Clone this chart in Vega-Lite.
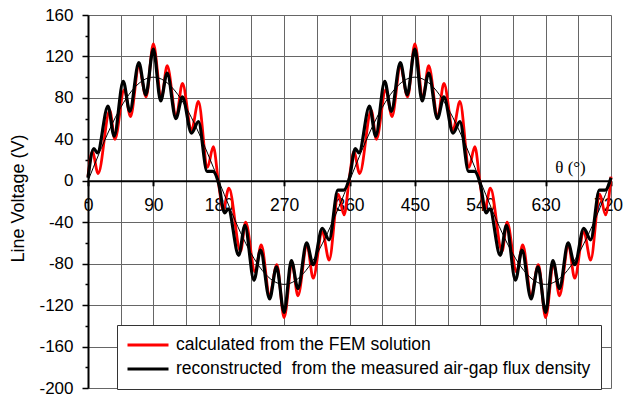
{
  "$schema": "https://vega.github.io/schema/vega-lite/v6.json",
  "width": 523,
  "height": 373,
  "autosize": {"type": "none"},
  "padding": {"left": 88, "top": 15, "right": 13, "bottom": 13},
  "background": "white",
  "config": {
    "view": {"stroke": null},
    "font": "Liberation Sans",
    "legend": {
      "orient": "none",
      "legendX": 29,
      "legendY": 310,
      "fillColor": "white",
      "strokeColor": "#333333",
      "strokeWidth": 1,
      "padding": 10,
      "symbolType": "stroke",
      "symbolSize": 1681,
      "symbolStrokeWidth": 3,
      "clipHeight": 20,
      "rowPadding": 4,
      "symbolOffset": -1,
      "labelOffset": 6,
      "labelFont": "Liberation Sans",
      "labelFontSize": 17.5,
      "labelColor": "#000000",
      "labelLimit": 700,
      "title": null
    }
  },
  "data": {
    "values": [
      {"x":0,"y":3,"s":"meas"},{"x":8,"y":31,"s":"meas"},{"x":13,"y":27,"s":"meas"},{"x":27.5,"y":72,"s":"meas"},{"x":36,"y":43,"s":"meas"},{"x":48.5,"y":96,"s":"meas"},{"x":57.5,"y":67,"s":"meas"},{"x":70,"y":114,"s":"meas"},{"x":79.5,"y":83,"s":"meas"},{"x":90,"y":127,"s":"meas"},{"x":100,"y":77,"s":"meas"},{"x":109,"y":104,"s":"meas"},{"x":121,"y":60,"s":"meas"},{"x":130,"y":81,"s":"meas"},{"x":142.5,"y":46,"s":"meas"},{"x":152,"y":57,"s":"meas"},{"x":164,"y":9,"s":"meas"},{"x":172,"y":9,"s":"meas"},
      {"x":180,"y":-3,"s":"meas"},{"x":188,"y":-31,"s":"meas"},{"x":193,"y":-27,"s":"meas"},{"x":207.5,"y":-72,"s":"meas"},{"x":216,"y":-43,"s":"meas"},{"x":228.5,"y":-96,"s":"meas"},{"x":237.5,"y":-67,"s":"meas"},{"x":250,"y":-114,"s":"meas"},{"x":259.5,"y":-83,"s":"meas"},{"x":270,"y":-127,"s":"meas"},{"x":280,"y":-77,"s":"meas"},{"x":289,"y":-104,"s":"meas"},{"x":301,"y":-60,"s":"meas"},{"x":310,"y":-81,"s":"meas"},{"x":322.5,"y":-46,"s":"meas"},{"x":332,"y":-57,"s":"meas"},{"x":344,"y":-9,"s":"meas"},{"x":352,"y":-9,"s":"meas"},
      {"x":360,"y":3,"s":"meas"},{"x":368,"y":31,"s":"meas"},{"x":373,"y":27,"s":"meas"},{"x":387.5,"y":72,"s":"meas"},{"x":396,"y":43,"s":"meas"},{"x":408.5,"y":96,"s":"meas"},{"x":417.5,"y":67,"s":"meas"},{"x":430,"y":114,"s":"meas"},{"x":439.5,"y":83,"s":"meas"},{"x":450,"y":127,"s":"meas"},{"x":460,"y":77,"s":"meas"},{"x":469,"y":104,"s":"meas"},{"x":481,"y":60,"s":"meas"},{"x":490,"y":81,"s":"meas"},{"x":502.5,"y":46,"s":"meas"},{"x":512,"y":57,"s":"meas"},{"x":524,"y":9,"s":"meas"},{"x":532,"y":9,"s":"meas"},
      {"x":540,"y":-3,"s":"meas"},{"x":548,"y":-31,"s":"meas"},{"x":553,"y":-27,"s":"meas"},{"x":567.5,"y":-72,"s":"meas"},{"x":576,"y":-43,"s":"meas"},{"x":588.5,"y":-96,"s":"meas"},{"x":597.5,"y":-67,"s":"meas"},{"x":610,"y":-114,"s":"meas"},{"x":619.5,"y":-83,"s":"meas"},{"x":630,"y":-127,"s":"meas"},{"x":640,"y":-77,"s":"meas"},{"x":649,"y":-104,"s":"meas"},{"x":661,"y":-60,"s":"meas"},{"x":670,"y":-81,"s":"meas"},{"x":682.5,"y":-46,"s":"meas"},{"x":692,"y":-57,"s":"meas"},{"x":704,"y":-9,"s":"meas"},{"x":712,"y":-9,"s":"meas"},{"x":720,"y":3,"s":"meas"},

      {"x":0,"y":4,"s":"FEM"},{"x":6,"y":28,"s":"FEM"},{"x":14,"y":7,"s":"FEM"},{"x":30,"y":68,"s":"FEM"},{"x":37,"y":40,"s":"FEM"},{"x":50,"y":88,"s":"FEM"},{"x":58.5,"y":62,"s":"FEM"},{"x":70,"y":110,"s":"FEM"},{"x":80,"y":81,"s":"FEM"},{"x":90,"y":132,"s":"FEM"},{"x":101,"y":80,"s":"FEM"},{"x":109,"y":111,"s":"FEM"},{"x":121.5,"y":62,"s":"FEM"},{"x":130,"y":94,"s":"FEM"},{"x":142.5,"y":49,"s":"FEM"},{"x":152,"y":76.5,"s":"FEM"},{"x":164.5,"y":13,"s":"FEM"},{"x":172.5,"y":33,"s":"FEM"},
      {"x":180,"y":-4,"s":"FEM"},{"x":186,"y":-28,"s":"FEM"},{"x":194,"y":-7,"s":"FEM"},{"x":210,"y":-68,"s":"FEM"},{"x":217,"y":-40,"s":"FEM"},{"x":230,"y":-88,"s":"FEM"},{"x":238.5,"y":-62,"s":"FEM"},{"x":250,"y":-110,"s":"FEM"},{"x":260,"y":-81,"s":"FEM"},{"x":270,"y":-132,"s":"FEM"},{"x":281,"y":-80,"s":"FEM"},{"x":289,"y":-111,"s":"FEM"},{"x":301.5,"y":-62,"s":"FEM"},{"x":310,"y":-94,"s":"FEM"},{"x":322.5,"y":-49,"s":"FEM"},{"x":332,"y":-76.5,"s":"FEM"},{"x":344.5,"y":-13,"s":"FEM"},{"x":352.5,"y":-33,"s":"FEM"},
      {"x":360,"y":4,"s":"FEM"},{"x":366,"y":28,"s":"FEM"},{"x":374,"y":7,"s":"FEM"},{"x":390,"y":68,"s":"FEM"},{"x":397,"y":40,"s":"FEM"},{"x":410,"y":88,"s":"FEM"},{"x":418.5,"y":62,"s":"FEM"},{"x":430,"y":110,"s":"FEM"},{"x":440,"y":81,"s":"FEM"},{"x":450,"y":132,"s":"FEM"},{"x":461,"y":80,"s":"FEM"},{"x":469,"y":111,"s":"FEM"},{"x":481.5,"y":62,"s":"FEM"},{"x":490,"y":94,"s":"FEM"},{"x":502.5,"y":49,"s":"FEM"},{"x":512,"y":76.5,"s":"FEM"},{"x":524.5,"y":13,"s":"FEM"},{"x":532.5,"y":33,"s":"FEM"},
      {"x":540,"y":-4,"s":"FEM"},{"x":546,"y":-28,"s":"FEM"},{"x":554,"y":-7,"s":"FEM"},{"x":570,"y":-68,"s":"FEM"},{"x":577,"y":-40,"s":"FEM"},{"x":590,"y":-88,"s":"FEM"},{"x":598.5,"y":-62,"s":"FEM"},{"x":610,"y":-110,"s":"FEM"},{"x":620,"y":-81,"s":"FEM"},{"x":630,"y":-132,"s":"FEM"},{"x":641,"y":-80,"s":"FEM"},{"x":649,"y":-111,"s":"FEM"},{"x":661.5,"y":-62,"s":"FEM"},{"x":670,"y":-94,"s":"FEM"},{"x":682.5,"y":-49,"s":"FEM"},{"x":692,"y":-76.5,"s":"FEM"},{"x":704.5,"y":-13,"s":"FEM"},{"x":712.5,"y":-33,"s":"FEM"},{"x":720,"y":4,"s":"FEM"},

      {"x":0,"y":0,"s":"fund"},{"x":15,"y":25.9,"s":"fund"},{"x":30,"y":50,"s":"fund"},{"x":45,"y":70.7,"s":"fund"},{"x":60,"y":86.6,"s":"fund"},{"x":75,"y":96.6,"s":"fund"},{"x":90,"y":100,"s":"fund"},{"x":105,"y":96.6,"s":"fund"},{"x":120,"y":86.6,"s":"fund"},{"x":135,"y":70.7,"s":"fund"},{"x":150,"y":50,"s":"fund"},{"x":165,"y":25.9,"s":"fund"},
      {"x":180,"y":0,"s":"fund"},{"x":195,"y":-25.9,"s":"fund"},{"x":210,"y":-50,"s":"fund"},{"x":225,"y":-70.7,"s":"fund"},{"x":240,"y":-86.6,"s":"fund"},{"x":255,"y":-96.6,"s":"fund"},{"x":270,"y":-100,"s":"fund"},{"x":285,"y":-96.6,"s":"fund"},{"x":300,"y":-86.6,"s":"fund"},{"x":315,"y":-70.7,"s":"fund"},{"x":330,"y":-50,"s":"fund"},{"x":345,"y":-25.9,"s":"fund"},
      {"x":360,"y":0,"s":"fund"},{"x":375,"y":25.9,"s":"fund"},{"x":390,"y":50,"s":"fund"},{"x":405,"y":70.7,"s":"fund"},{"x":420,"y":86.6,"s":"fund"},{"x":435,"y":96.6,"s":"fund"},{"x":450,"y":100,"s":"fund"},{"x":465,"y":96.6,"s":"fund"},{"x":480,"y":86.6,"s":"fund"},{"x":495,"y":70.7,"s":"fund"},{"x":510,"y":50,"s":"fund"},{"x":525,"y":25.9,"s":"fund"},
      {"x":540,"y":0,"s":"fund"},{"x":555,"y":-25.9,"s":"fund"},{"x":570,"y":-50,"s":"fund"},{"x":585,"y":-70.7,"s":"fund"},{"x":600,"y":-86.6,"s":"fund"},{"x":615,"y":-96.6,"s":"fund"},{"x":630,"y":-100,"s":"fund"},{"x":645,"y":-96.6,"s":"fund"},{"x":660,"y":-86.6,"s":"fund"},{"x":675,"y":-70.7,"s":"fund"},{"x":690,"y":-50,"s":"fund"},{"x":705,"y":-25.9,"s":"fund"},{"x":720,"y":0,"s":"fund"}
    ]
  },
  "encoding": {
    "x": {
      "field": "x",
      "type": "quantitative",
      "scale": {"domain": [0, 720], "nice": false, "zero": false},
      "axis": {
        "orient": "bottom",
        "offset": -207.22,
        "values": [0,45,90,135,180,225,270,315,360,405,450,495,540,585,630,675,720],
        "labelExpr": "datum.value % 90 === 0 ? '' + datum.value : ''",
        "labelFlush": false,
        "labelOverlap": false,
        "labelFont": "Liberation Sans",
        "labelFontSize": 17.5,
        "labelColor": "#000000",
        "labelPadding": 11,
        "labelOffset": {"condition": {"test": "datum.value === 720", "value": -3}, "value": 0},
        "domainColor": "#000000",
        "domainWidth": 2,
        "tickColor": "#000000",
        "tickWidth": 2,
        "tickSize": 5,
        "tickOpacity": {"condition": {"test": "datum.value % 90 === 0", "value": 1}, "value": 0},
        "grid": true,
        "gridColor": "#666666",
        "gridWidth": 1,
        "title": "θ (°)",
        "titleFont": "Liberation Serif",
        "titleFontSize": 17,
        "titleFontWeight": "normal",
        "titleColor": "#000000",
        "titleX": 482,
        "titleY": -13,
        "titleAlign": "center",
        "titleBaseline": "middle"
      }
    },
    "y": {
      "field": "y",
      "type": "quantitative",
      "scale": {"domain": [-200, 160], "nice": false, "zero": false},
      "axis": {
        "values": [-200,-180,-160,-140,-120,-100,-80,-60,-40,-20,0,20,40,60,80,100,120,140,160],
        "labelExpr": "datum.value % 40 === 0 ? '' + datum.value : ''",
        "labelOverlap": false,
        "labelFlush": false,
        "labelFont": "Liberation Sans",
        "labelFontSize": 17,
        "labelColor": "#000000",
        "labelPadding": 9,
        "domainColor": "#000000",
        "domainWidth": 2,
        "tickColor": "#000000",
        "tickWidth": 1.5,
        "tickSize": {"condition": {"test": "datum.value % 40 === 0", "value": 6}, "value": 3},
        "grid": true,
        "gridColor": "#666666",
        "gridWidth": 1,
        "gridOpacity": {"condition": {"test": "datum.value % 40 === 0", "value": 1}, "value": 0},
        "title": "Line Voltage (V)",
        "titleFont": "Liberation Sans",
        "titleFontSize": 18,
        "titleFontWeight": "normal",
        "titleColor": "#000000",
        "titleX": -70,
        "titleY": 183,
        "titleAlign": "center",
        "titleBaseline": "middle"
      }
    }
  },
  "layer": [
    {
      "transform": [{"filter": "datum.s === 'FEM'"}],
      "mark": {"type": "line", "interpolate": "monotone", "strokeWidth": 2.8},
      "encoding": {
        "color": {
          "field": "s",
          "type": "nominal",
          "scale": {"domain": ["FEM", "meas"], "range": ["#ff0000", "#000000"]},
          "legend": {
            "labelExpr": "datum.label === 'FEM' ? 'calculated from the FEM solution' : 'reconstructed\u00a0 from the measured air-gap flux density'"
          }
        }
      }
    },
    {
      "transform": [{"filter": "datum.s === 'meas'"}],
      "mark": {"type": "line", "interpolate": "monotone", "strokeWidth": 3.2},
      "encoding": {
        "color": {"field": "s", "type": "nominal"}
      }
    },
    {
      "transform": [{"filter": "datum.s === 'fund'"}],
      "mark": {"type": "line", "interpolate": "natural", "strokeWidth": 1, "color": "#000000"},
      "encoding": {}
    }
  ]
}
